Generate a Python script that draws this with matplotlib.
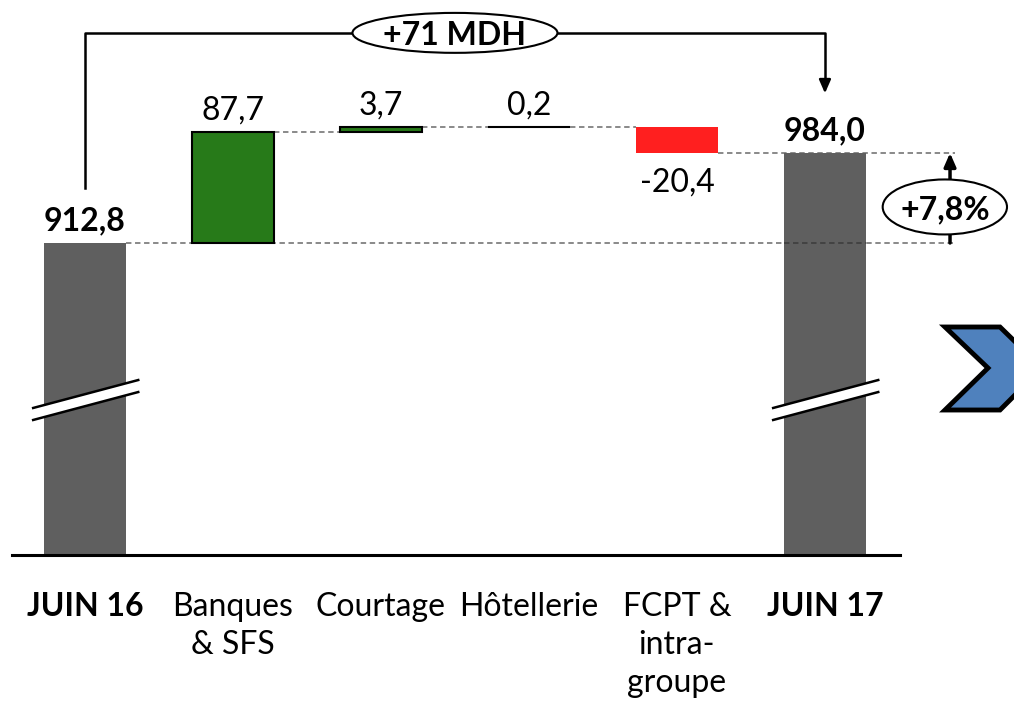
import matplotlib

matplotlib.use("Agg")
from matplotlib import pyplot as plt
from matplotlib.patches import Ellipse, Polygon

plt.rcParams["font.family"] = ["Lato", "DejaVu Sans"]

# ---------- données ----------
categories = ["JUIN 16", "Banques\n& SFS", "Courtage", "Hôtellerie",
              "FCPT &\nintra-\ngroupe", "JUIN 17"]
start_value = 912.8
deltas = [87.7, 3.7, 0.2, -20.4]
end_value = 984.0
value_labels = ["912,8", "87,7", "3,7", "0,2", "-20,4", "984,0"]
total_label = "+71 MDH"
pct_label = "+7,8%"

GREY = "#5f5f5f"
GREEN = "#277a19"
RED = "#ff1f1f"
BLUE = "#4f81bd"
FS = 23

# cumul pour la cascade
bottoms, tops = [], []
level = start_value
for d in deltas:
    bottoms.append(min(level, level + d))
    tops.append(max(level, level + d))
    level += d

fig = plt.figure(figsize=(10.14, 7.11), dpi=100)
ax = fig.add_axes([12 / 1014, (711 - 555) / 711, 888 / 1014, 555 / 711])
ax.set_xlim(-0.493, 5.507)
ax.set_ylim(666, 1105)
for s in ["top", "left", "right"]:
    ax.spines[s].set_visible(False)
ax.spines["bottom"].set_linewidth(2.2)
ax.set_yticks([])

w = 0.55
# barres de total (tronquées en bas)
ax.bar([0, 5], [start_value, end_value], width=w, color=GREY, zorder=2)
# barres de variation
colors = [GREEN if d > 0 else RED for d in deltas]
edges = ["black" if d > 0 else "none" for d in deltas]
ax.bar(range(1, 5), [t - b for t, b in zip(tops, bottoms)], bottom=bottoms,
       width=w, color=colors, edgecolor=edges, linewidth=1.5, zorder=3)

# lignes pointillées de liaison
dash = dict(color="#808080", lw=1.3, ls=(0, (3, 2)), zorder=1, clip_on=False)
ax.plot([0 + w / 2, 5.88], [start_value, start_value], **dash)
level = start_value
for i, d in enumerate(deltas[:-1]):
    level += d
    ax.plot([i + 1 + w / 2, i + 2 - w / 2], [level, level], **dash)
ax.plot([4 + w / 2, 5.88], [end_value, end_value], **dash)
ax.plot([5 - w / 2, 5 + w / 2], [start_value, start_value],
        color="#404040", lw=1.3, ls=(0, (3, 2)), zorder=4)

# étiquettes de valeurs
vals_top = [start_value] + [t for t in tops] + [end_value]
vals_bot = [start_value] + bottoms + [end_value]
for i, txt in enumerate(value_labels):
    bold = i in (0, 5)
    if 1 <= i <= 4 and deltas[i - 1] < 0:
        ax.annotate(txt, (i, vals_bot[i]), xytext=(0, -39), textcoords="offset pixels",
                    ha="center", va="baseline", fontsize=FS)
    else:
        ax.annotate(txt, (i, vals_top[i]), xytext=(0, 13), textcoords="offset pixels",
                    ha="center", va="baseline", fontsize=FS,
                    fontweight="bold" if bold else "normal")

# axe des catégories
ax.set_xticks(range(len(categories)))
ax.set_xticklabels(categories, fontsize=FS)
ax.tick_params(axis="x", length=0, pad=27)
for i, t in enumerate(ax.get_xticklabels()):
    t.set_linespacing(1.32)
    t.set_verticalalignment("top")
    if i in (0, 5):
        t.set_fontweight("bold")

# marques de rupture
for xc in (0, 5):
    x0, x1 = xc - 0.35, xc + 0.36
    y0, y1 = 782.3, 804.4
    gap = 9.5
    ax.add_patch(Polygon([(x0, y0), (x1, y1), (x1, y1 - gap), (x0, y0 - gap)],
                         closed=True, facecolor="white", edgecolor="none", zorder=5))
    ax.plot([x0, x1], [y0, y1], color="black", lw=1.8, zorder=6)
    ax.plot([x0, x1], [y0 - gap, y1 - gap], color="black", lw=1.8, zorder=6)

# accolade du haut : +71 MDH
ytop = 1079
ax.plot([0, 0, 5, 5], [956.5, ytop, ytop, 1040], color="black", lw=1.8,
        clip_on=False, zorder=4)
ax.annotate("", xy=(5, 1029), xytext=(5, 1042),
            arrowprops=dict(arrowstyle="-|>,head_length=0.8,head_width=0.35",
                            color="black", lw=1.8), annotation_clip=False)
ax.add_patch(Ellipse((2.5, ytop), 1.385, 31.6, facecolor="white",
                     edgecolor="black", lw=1.5, zorder=6, clip_on=False))
ax.text(2.5, ytop, total_label, ha="center", va="center_baseline", fontsize=FS,
        fontweight="bold", zorder=7)

# flèche +7,8%
xa = 5.845
ax.annotate("", xy=(xa, end_value), xytext=(xa, start_value),
            arrowprops=dict(arrowstyle="-|>,head_length=0.8,head_width=0.35",
                            color="black", lw=2.5, shrinkA=0, shrinkB=0),
            annotation_clip=False)
ax.add_patch(Ellipse((5.81, 941.3), 0.84, 43.5, facecolor="white",
                     edgecolor="black", lw=1.5, zorder=6, clip_on=False))
ax.text(5.81, 941.3, pct_label, ha="center", va="center_baseline", fontsize=FS,
        fontweight="bold", zorder=7, clip_on=False)

# chevron bleu à droite
pts = [(945, 327), (1000, 327), (1042, 368), (1000, 410), (945, 410), (988, 368)]
fig.add_artist(Polygon([(x / 1014, 1 - y / 711) for x, y in pts], closed=True,
                       facecolor=BLUE, edgecolor="black", lw=3.5,
                       transform=fig.transFigure))

fig.savefig("out.png", dpi=100)
